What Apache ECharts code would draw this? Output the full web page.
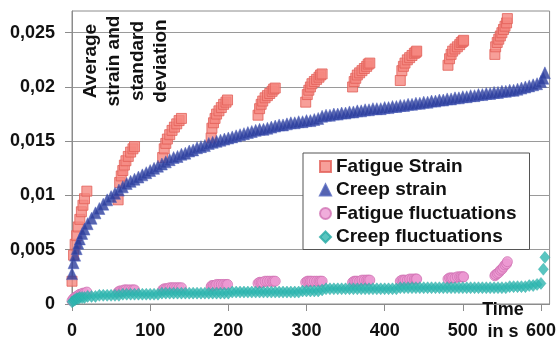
<!DOCTYPE html>
<html>
<head>
<meta charset="utf-8">
<script src="https://cdn.jsdelivr.net/npm/echarts@6/dist/echarts.min.js"></script>
<style>html,body{margin:0;padding:0;background:#fff;}#c{width:559px;height:343px;}</style>
</head>
<body>
<div id="c"></div>
<script>
// ---- data ----
const seriesNames = ['Fatigue Strain', 'Creep strain', 'Fatigue fluctuations', 'Creep fluctuations'];
const xTicks = [0, 100, 200, 300, 400, 500, 600];
const yTicks = [0, 0.005, 0.01, 0.015, 0.02, 0.025];
const yTickLabels = ['0', '0,005', '0,01', '0,015', '0,02', '0,025'];

// time stamps of the loading cycles (fatigue tests), seconds
const fatigueTime = [
  0, 2, 4, 6, 8, 10, 12, 14, 16, 19,
  59, 61, 63, 65, 67, 69, 72, 75, 78, 80,
  116, 118, 120, 122, 125, 128, 131, 134, 137, 140,
  178, 179, 181, 183, 185, 188, 191, 194, 197, 199,
  238, 240, 242, 244, 247, 250, 253, 256, 258, 260,
  299, 301, 303, 305, 307, 310, 313, 316, 318, 320,
  359, 361, 363, 365, 368, 371, 374, 377, 379, 381,
  420, 422, 424, 426, 429, 432, 435, 438, 440, 441,
  481, 483, 485, 487, 490, 493, 496, 498, 500, 501,
  541, 542, 544, 546, 548, 550, 552, 554, 556, 557
];
const fatigueStrain = [
  0.0021, 0.0045, 0.0055, 0.0063, 0.0071, 0.0078, 0.0085, 0.0091, 0.0097, 0.0104,
  0.0096, 0.0112, 0.0118, 0.0123, 0.0128, 0.0132, 0.0136, 0.0140, 0.0143, 0.0145,
  0.0135, 0.0143, 0.0148, 0.0152, 0.0156, 0.0160, 0.0163, 0.0166, 0.0169, 0.0171,
  0.0153, 0.0162, 0.0167, 0.0171, 0.0175, 0.0178, 0.0181, 0.0184, 0.0186, 0.0188,
  0.0174, 0.0180, 0.0184, 0.0187, 0.0190, 0.0192, 0.0194, 0.0196, 0.0198, 0.0199,
  0.0186, 0.0193, 0.0197, 0.0200, 0.0203, 0.0205, 0.0207, 0.0209, 0.0211, 0.0212,
  0.0200, 0.0205, 0.0208, 0.0211, 0.0213, 0.0215, 0.0217, 0.0219, 0.0221, 0.0222,
  0.0206, 0.0215, 0.0219, 0.0222, 0.0225, 0.0227, 0.0229, 0.0231, 0.0232, 0.0233,
  0.0220, 0.0226, 0.0230, 0.0233, 0.0235, 0.0237, 0.0239, 0.0241, 0.0242, 0.0243,
  0.0230, 0.0237, 0.0241, 0.0244, 0.0247, 0.0250, 0.0253, 0.0256, 0.0259, 0.0263
];
const fatigueFluct = [
  0.0003, 0.0005, 0.0006, 0.0007, 0.0008, 0.0009, 0.0009, 0.0010, 0.0010, 0.0011,
  0.0011, 0.0012, 0.0012, 0.0012, 0.0013, 0.0013, 0.0013, 0.0013, 0.0013, 0.0013,
  0.0013, 0.0014, 0.0014, 0.0014, 0.0015, 0.0015, 0.0015, 0.0015, 0.0015, 0.0015,
  0.0016, 0.0017, 0.0017, 0.0017, 0.0018, 0.0018, 0.0018, 0.0018, 0.0018, 0.0018,
  0.0019, 0.0020, 0.0020, 0.0020, 0.0021, 0.0021, 0.0021, 0.0021, 0.0021, 0.0021,
  0.0020, 0.0021, 0.0021, 0.0021, 0.0021, 0.0021, 0.0021, 0.0021, 0.0021, 0.0021,
  0.0020, 0.0021, 0.0021, 0.0021, 0.0021, 0.0022, 0.0022, 0.0022, 0.0022, 0.0022,
  0.0021, 0.0022, 0.0022, 0.0022, 0.0022, 0.0023, 0.0023, 0.0023, 0.0023, 0.0023,
  0.0023, 0.0024, 0.0024, 0.0024, 0.0024, 0.0025, 0.0025, 0.0025, 0.0025, 0.0025,
  0.0026, 0.0027, 0.0028, 0.0029, 0.0031, 0.0032, 0.0034, 0.0036, 0.0037, 0.0039
];

// creep test sampling times, seconds
const creepTime = [
  0, 2, 4, 6, 8, 10, 13, 16, 20, 25, 30, 35, 40, 45, 50, 55, 60, 65, 70, 75,
  80, 85, 90, 95, 100, 105, 110, 115, 120, 125, 130, 135, 140, 145, 150, 155, 160, 165, 170, 175,
  180, 185, 190, 195, 200, 205, 210, 215, 220, 225, 230, 235, 240, 245, 250, 255, 260, 265, 270, 275,
  280, 285, 290, 295, 300, 305, 310, 315, 320, 325, 330, 335, 340, 345, 350, 355, 360, 365, 370, 375,
  380, 385, 390, 395, 400, 405, 410, 415, 420, 425, 430, 435, 440, 445, 450, 455, 460, 465, 470, 475,
  480, 485, 490, 495, 500, 505, 510, 515, 520, 525, 530, 535, 540, 545, 550, 555, 560, 565, 570, 575,
  580, 585, 590, 595, 600, 603, 605
];
const creepStrain = [
  0.0028, 0.0038, 0.0045, 0.0051, 0.0056, 0.0060, 0.0065, 0.0069, 0.0074, 0.0079, 0.0084, 0.0088, 0.0092, 0.0096, 0.0099, 0.0102, 0.0105, 0.0108, 0.0111, 0.0113,
  0.0115, 0.0117, 0.0119, 0.0121, 0.0123, 0.0125, 0.0127, 0.0129, 0.0131, 0.0133, 0.0135, 0.0136, 0.0138, 0.0139, 0.0141, 0.0142, 0.0144, 0.0145, 0.0146, 0.0148,
  0.0149, 0.0150, 0.0151, 0.0152, 0.0153, 0.0154, 0.0155, 0.0156, 0.0157, 0.0158, 0.0159, 0.0160, 0.0161, 0.0161, 0.0162, 0.0163, 0.0164, 0.0165, 0.0165, 0.0166,
  0.0167, 0.0167, 0.0168, 0.0168, 0.0169, 0.0169, 0.0170, 0.0171, 0.0173, 0.0174, 0.0174, 0.0175, 0.0175, 0.0176, 0.0176, 0.0177, 0.0177, 0.0178, 0.0178, 0.0179,
  0.0179, 0.0180, 0.0180, 0.0180, 0.0181, 0.0181, 0.0182, 0.0182, 0.0183, 0.0183, 0.0184, 0.0184, 0.0185, 0.0185, 0.0186, 0.0186, 0.0187, 0.0187, 0.0188, 0.0188,
  0.0189, 0.0189, 0.0190, 0.0190, 0.0191, 0.0191, 0.0192, 0.0192, 0.0193, 0.0193, 0.0194, 0.0194, 0.0195, 0.0195, 0.0196, 0.0196, 0.0197, 0.0197, 0.0198, 0.0199,
  0.0200, 0.0201, 0.0202, 0.0203, 0.0205, 0.0208, 0.0213
];
const creepFluct = [
  0.0002, 0.0003, 0.0004, 0.0005, 0.0005, 0.0006, 0.0006, 0.0006, 0.0007, 0.0007, 0.0007, 0.0008, 0.0008, 0.0008, 0.0008, 0.0008, 0.0008, 0.0009, 0.0009, 0.0009,
  0.0009, 0.0009, 0.0009, 0.0009, 0.0009, 0.0009, 0.0009, 0.0010, 0.0010, 0.0010, 0.0010, 0.0010, 0.0010, 0.0010, 0.0010, 0.0010, 0.0010, 0.0010, 0.0010, 0.0010,
  0.0010, 0.0010, 0.0010, 0.0010, 0.0010, 0.0011, 0.0011, 0.0011, 0.0011, 0.0011, 0.0011, 0.0011, 0.0011, 0.0011, 0.0011, 0.0011, 0.0011, 0.0011, 0.0011, 0.0011,
  0.0011, 0.0011, 0.0011, 0.0012, 0.0012, 0.0012, 0.0012, 0.0012, 0.0013, 0.0014, 0.0014, 0.0014, 0.0014, 0.0014, 0.0014, 0.0014, 0.0014, 0.0014, 0.0014, 0.0014,
  0.0014, 0.0014, 0.0014, 0.0014, 0.0014, 0.0014, 0.0014, 0.0014, 0.0015, 0.0015, 0.0015, 0.0015, 0.0015, 0.0015, 0.0015, 0.0015, 0.0015, 0.0015, 0.0015, 0.0015,
  0.0015, 0.0015, 0.0015, 0.0015, 0.0015, 0.0015, 0.0015, 0.0015, 0.0015, 0.0015, 0.0015, 0.0015, 0.0015, 0.0015, 0.0015, 0.0015, 0.0016, 0.0016, 0.0016, 0.0016,
  0.0016, 0.0017, 0.0017, 0.0018, 0.0019, 0.0032, 0.0043
];

// ---- chart ----
const pair = (xs, ys) => xs.map((x, i) => [x, ys[i]]);
const FONT = '"Liberation Sans", Arial, sans-serif';
const AX = '#8c8c8c';

const chart = echarts.init(document.getElementById('c'), null, {renderer: 'canvas'});
chart.setOption({
  animation: false,
  backgroundColor: '#fff',
  grid: {left: 72, right: 7, top: 11, bottom: 39, show: true, borderColor: AX, borderWidth: 1},
  xAxis: {
    type: 'value', min: 0, max: 611,
    axisLine: {show: true, lineStyle: {color: AX, width: 1}},
    axisTick: {show: true, length: 7, customValues: xTicks, lineStyle: {color: AX}},
    axisLabel: {customValues: xTicks, margin: 18, color: '#111', fontFamily: FONT, fontWeight: 'bold', fontSize: 18},
    splitLine: {show: false}
  },
  yAxis: {
    type: 'value', min: 0, max: 0.027,
    axisLine: {show: true, lineStyle: {color: AX, width: 1}},
    axisTick: {show: true, length: 7, customValues: yTicks, lineStyle: {color: AX}},
    axisLabel: {
      customValues: yTicks, margin: 17, color: '#111', fontFamily: FONT, fontWeight: 'bold', fontSize: 18,
      formatter: v => {
        let best = 0;
        yTicks.forEach((t, i) => { if (Math.abs(t - v) < Math.abs(yTicks[best] - v)) best = i; });
        return yTickLabels[best];
      }
    },
    splitLine: {show: true, lineStyle: {color: '#9a9a9a', width: 1}}
  },
  legend: {
    orient: 'vertical', left: 303, top: 153,
    padding: [4, 13, 3, 16], itemGap: 4.5, itemWidth: 11, itemHeight: 11,
    backgroundColor: '#fff', borderColor: '#555', borderWidth: 1, borderRadius: 0,
    textStyle: {fontFamily: FONT, fontWeight: 'bold', fontSize: 19, color: '#111'},
    data: [
      {name: seriesNames[0], icon: 'rect'},
      {name: seriesNames[1], icon: 'triangle'},
      {name: seriesNames[2], icon: 'circle'},
      {name: seriesNames[3], icon: 'diamond'}
    ]
  },
  graphic: [
    {
      type: 'text', x: 126, y: 61, rotation: Math.PI / 2, z: 100,
      style: {
        text: 'Average\nstrain and\nstandard\ndeviation',
        font: 'bold 19px ' + FONT, fill: '#111',
        align: 'center', verticalAlign: 'middle', textAlign: 'center', textVerticalAlign: 'middle',
        lineHeight: 23.5
      }
    },
    {
      type: 'text', x: 503, y: 321, z: 100,
      style: {
        text: 'Time\nin s',
        font: 'bold 18px ' + FONT, fill: '#111',
        align: 'center', verticalAlign: 'middle', textAlign: 'center', textVerticalAlign: 'middle',
        lineHeight: 22
      }
    }
  ],
  series: [
    {
      name: seriesNames[0], type: 'scatter', symbol: 'rect', symbolSize: 10,
      itemStyle: {color: '#f5877f', borderColor: '#e25f57', borderWidth: 1},
      data: pair(fatigueTime, fatigueStrain), z: 2
    },
    {
      name: seriesNames[1], type: 'scatter', symbol: 'triangle', symbolSize: [11, 12],
      itemStyle: {color: '#2c3d9c', borderColor: '#4f61bb', borderWidth: 0.6},
      data: pair(creepTime, creepStrain), z: 3
    },
    {
      name: seriesNames[2], type: 'scatter', symbol: 'circle', symbolSize: 10,
      itemStyle: {color: '#ec98d2', borderColor: '#d173b4', borderWidth: 1},
      data: pair(fatigueTime, fatigueFluct), z: 4
    },
    {
      name: seriesNames[3], type: 'scatter', symbol: 'diamond', symbolSize: [10, 12],
      itemStyle: {color: '#2fb7b0', borderColor: '#27aaa4', borderWidth: 0.5},
      data: pair(creepTime, creepFluct), z: 5
    }
  ]
});
</script>
</body>
</html>
